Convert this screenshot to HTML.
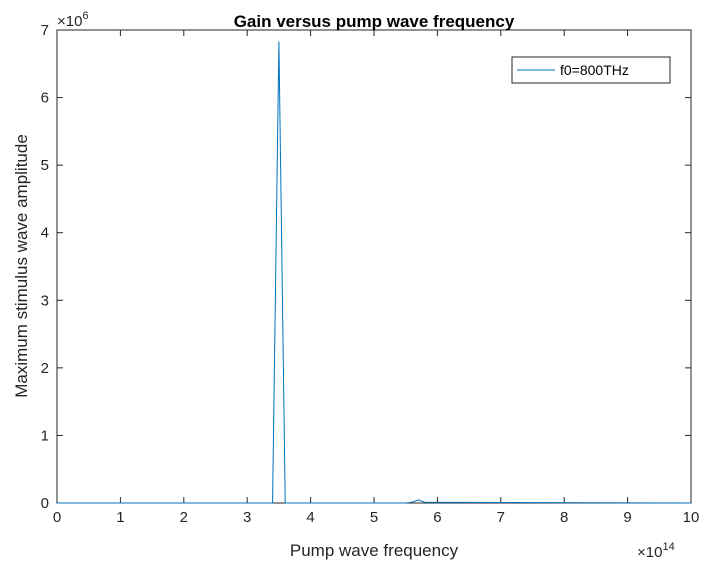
<!DOCTYPE html>
<html><head><meta charset="utf-8"><style>
body{margin:0;background:#fff;font-family:"Liberation Sans",Arial,sans-serif}
svg text{font-family:"Liberation Sans",Arial,sans-serif}
</style></head><body>
<svg id="chart" width="711" height="574"></svg>
<script>
const freqs=[0,3.4,3.5,3.6,5.5,5.6,5.7,5.8,10];
const amps=[0,0,6.83,0,0,0.012,0.045,0.012,0];
const xTicks=[0,1,2,3,4,5,6,7,8,9,10];
const yTicks=[0,1,2,3,4,5,6,7];
const L=57,R=691,T=30,B=503;
const sx=v=>L+(v-0)/(10-0)*(R-L);
const sy=v=>B-(v-0)/(7-0)*(B-T);
const svg=document.getElementById('chart');
const NS='http://www.w3.org/2000/svg';
function mk(tag,attrs,txt){const e=document.createElementNS(NS,tag);for(const k in attrs)e.setAttribute(k,attrs[k]);if(txt!==undefined)e.textContent=txt;svg.appendChild(e);return e;}
let e=mk('rect',{x:L,y:T,width:R-L,height:B-T,fill:'#fff',stroke:'#262626','stroke-width':1});


xTicks.forEach(t=>{const x=sx(t);
 let l=mk('line',{x1:x,y1:B,x2:x,y2:B-6,stroke:'#262626'});
 
 
 let l2=mk('line',{x1:x,y1:T,x2:x,y2:T+6,stroke:'#262626'});
 
 
 let tx=mk('text',{x:x,y:B+19,'text-anchor':'middle','font-size':15,fill:'#262626'},t);
 
 
});
yTicks.forEach(t=>{const y=sy(t);
 let l=mk('line',{x1:L,y1:y,x2:L+6,y2:y,stroke:'#262626'});
 
 
 let l2=mk('line',{x1:R,y1:y,x2:R-6,y2:y,stroke:'#262626'});
 
 
 let tx=mk('text',{x:L-8,y:y+5,'text-anchor':'end','font-size':15,fill:'#262626'},t);
 
 
});
let p=mk('polyline',{points:freqs.map((f,i)=>sx(f)+','+sy(amps[i])).join(' '),fill:'none',stroke:'#0072BD','stroke-width':1});


let t1=mk('text',{x:374,y:27,'text-anchor':'middle','font-size':17,'font-weight':'bold',fill:'#000'},'Gain versus pump wave frequency');


let t2=mk('text',{x:374,y:556,'text-anchor':'middle','font-size':17,fill:'#262626'},'Pump wave frequency');


let t3=mk('text',{x:0,y:0,'text-anchor':'middle','font-size':17,fill:'#262626',transform:'translate(27,266) rotate(-90)'},'Maximum stimulus wave amplitude');


let t4=mk('text',{x:57,y:26,'font-size':15,fill:'#262626'});
t4.innerHTML='×10<tspan dy="-7" font-size="11">6</tspan>';


let t5=mk('text',{x:637,y:557,'font-size':15,fill:'#262626'});
t5.innerHTML='×10<tspan dy="-7" font-size="11">14</tspan>';


let g=mk('rect',{x:512,y:57,width:158,height:26,fill:'#fff',stroke:'#262626','stroke-width':1});


let ll=mk('line',{x1:517,y1:70,x2:555,y2:70,stroke:'#0072BD'});


let lt=mk('text',{x:560,y:75,'font-size':14,fill:'#000'},'f0=800THz');


</script>
</body></html>
